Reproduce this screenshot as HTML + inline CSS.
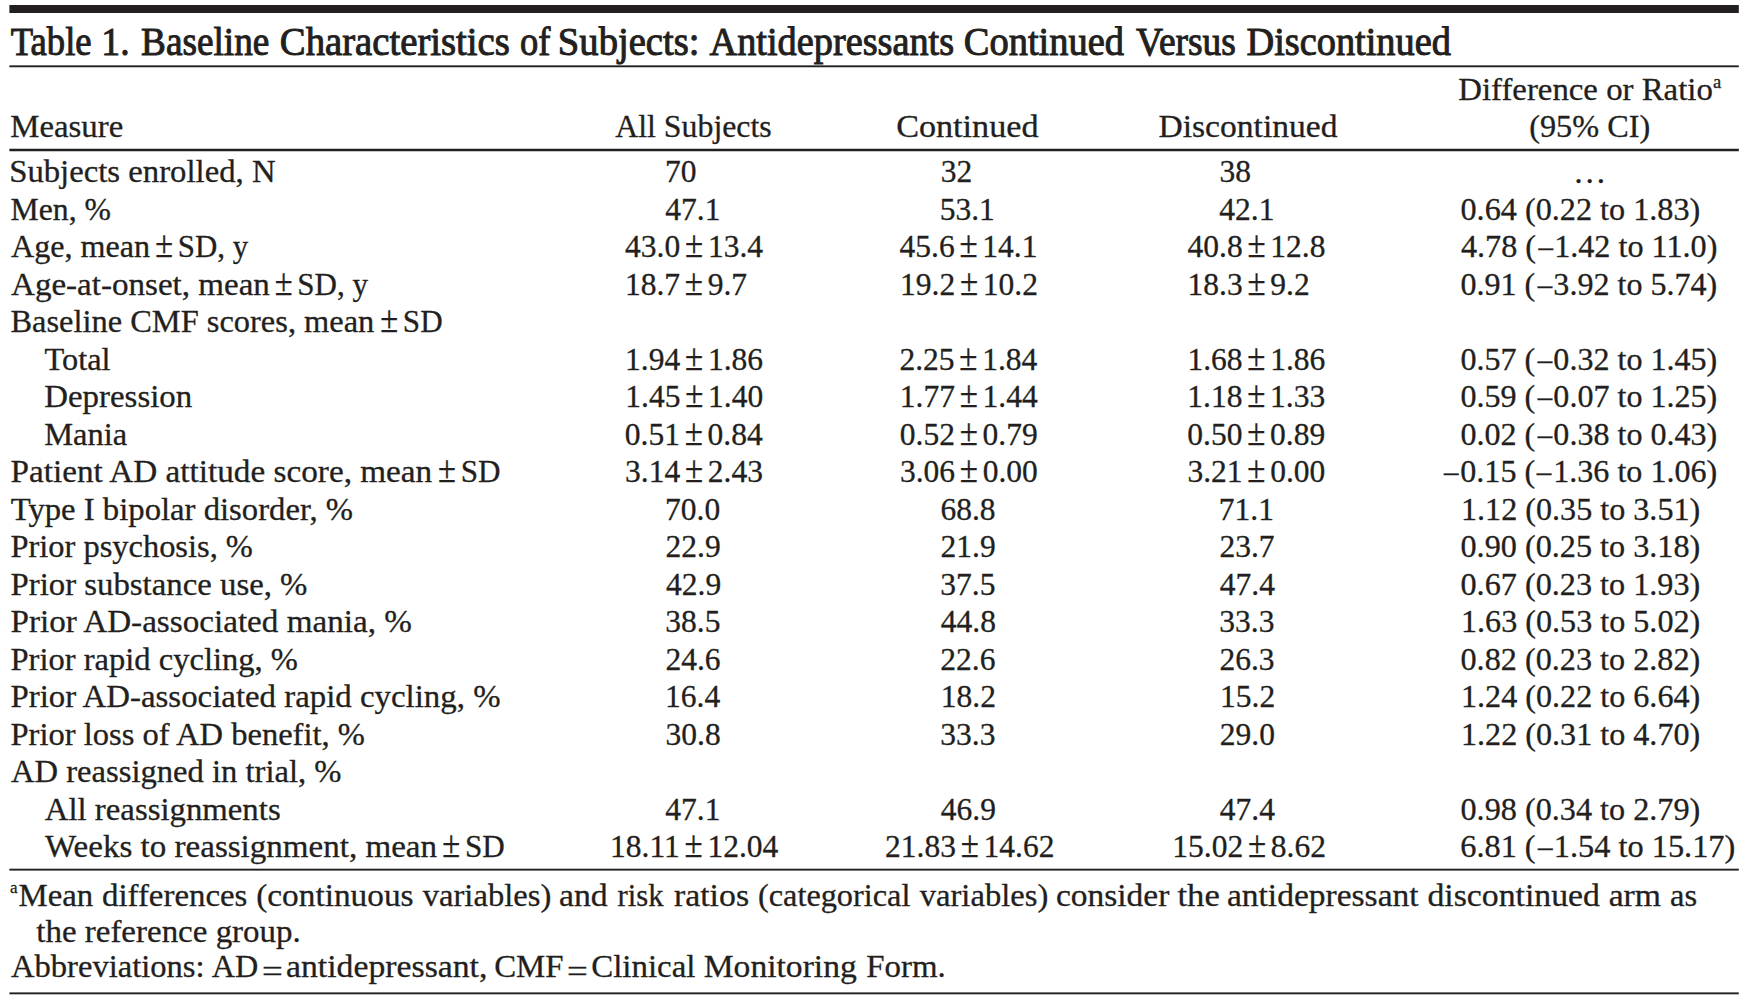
<!DOCTYPE html>
<html lang="en"><head><meta charset="utf-8"><title>Table 1</title><style>html,body{margin:0;padding:0;background:#fff;}
body{width:1748px;height:1004px;position:relative;overflow:hidden;font-family:"Liberation Serif",serif;color:#231f20;}
.t{position:absolute;left:0;top:0;white-space:pre;line-height:normal;transform-origin:0 0;font-size:31.5px;-webkit-text-stroke:0.3px #231f20;}
.title{font-size:40.5px;-webkit-text-stroke:1px #231f20;}
.sup{font-size:18.5px;}
.pm{display:inline-block;margin:0 4.75px;font-size:1.05em;line-height:1;transform:scaleY(1.12);transform-origin:50% 83.75%;}
.eq{margin:0 3.2px;}
.rule{position:absolute;left:0;top:0;fill:#231f20;}
.mn{display:inline-block;transform:scaleX(0.9);margin:0 0.8px 0 1.2px;}
.sup2{font-size:17px;}
.pm0{margin-left:0;}
</style></head><body>
<svg class="rule" width="1748" height="1004" viewBox="0 0 1748 1004">
<rect x="9.4" y="5.00" width="1729.4" height="8.00"/>
<rect x="9.4" y="65.35" width="1729.4" height="1.90"/>
<rect x="9.4" y="148.75" width="1729.4" height="2.50"/>
<rect x="9.4" y="868.70" width="1729.4" height="1.90"/>
<rect x="9.4" y="992.40" width="1729.4" height="1.90"/>
</svg>
<span id="t0" class="t title" style="transform:translate(10.77px,17.60px) scaleX(0.9043)">Table</span>
<span id="t1" class="t title" style="transform:translate(101.30px,17.60px) scaleX(0.9300)">1.</span>
<span id="t2" class="t title" style="transform:translate(141.04px,17.60px) scaleX(0.9196)">Baseline</span>
<span id="t3" class="t title" style="transform:translate(279.81px,17.60px) scaleX(0.9560)">Characteristics</span>
<span id="t4" class="t title" style="transform:translate(520.10px,17.60px) scaleX(0.9008)">of</span>
<span id="t5" class="t title" style="transform:translate(557.86px,17.60px) scaleX(0.9533)">Subjects:</span>
<span id="t6" class="t title" style="transform:translate(709.50px,17.60px) scaleX(0.9457)">Antidepressants</span>
<span id="t7" class="t title" style="transform:translate(963.81px,17.60px) scaleX(0.9493)">Continued</span>
<span id="t8" class="t title" style="transform:translate(1136.00px,17.60px) scaleX(0.9252)">Versus</span>
<span id="t9" class="t title" style="transform:translate(1246.54px,17.60px) scaleX(0.9459)">Discontinued</span>
<span id="h0" class="t" style="transform:translate(10.22px,109.40px) scaleX(1.0417)">Measure</span>
<span id="h1" class="t" style="transform:translate(615.25px,109.40px) scaleX(1.0101)">All Subjects</span>
<span id="h2" class="t" style="transform:translate(896.15px,109.40px) scaleX(1.0848)">Continued</span>
<span id="h3" class="t" style="transform:translate(1158.45px,109.40px) scaleX(1.0659)">Discontinued</span>
<span id="h4" class="t" style="transform:translate(1458.22px,71.50px) scaleX(1.0421)">Difference or Ratio</span>
<span id="h4a" class="t sup" style="transform:translate(1712.97px,72.00px) scaleX(1.0000)">a</span>
<span id="h5" class="t" style="transform:translate(1529.22px,109.40px) scaleX(1.0246)">(95% CI)</span>
<span id="p2" class="t" style="transform:translate(155.27px,229.20px) scaleX(0.9802)"><span class="pm pm0">±</span>SD, y</span>
<span id="p3" class="t" style="transform:translate(274.77px,266.70px) scaleX(0.9840)"><span class="pm pm0">±</span>SD, y</span>
<span id="p4" class="t" style="transform:translate(380.26px,304.20px) scaleX(0.9869)"><span class="pm pm0">±</span>SD</span>
<span id="p8" class="t" style="transform:translate(438.01px,454.20px) scaleX(0.9877)"><span class="pm pm0">±</span>SD</span>
<span id="p18" class="t" style="transform:translate(442.26px,829.20px) scaleX(0.9885)"><span class="pm pm0">±</span>SD</span>
<span id="a0" class="t" style="transform:translate(9.17px,154.20px) scaleX(1.0392)">Subjects enrolled, N</span>
<span id="a1" class="t" style="transform:translate(10.49px,191.70px) scaleX(1.0071)">Men, %</span>
<span id="a2" class="t" style="transform:translate(11.00px,229.20px) scaleX(1.0195)">Age, mean</span>
<span id="a3" class="t" style="transform:translate(11.00px,266.70px) scaleX(1.0497)">Age-at-onset, mean</span>
<span id="a4" class="t" style="transform:translate(10.48px,304.20px) scaleX(1.0294)">Baseline CMF scores, mean</span>
<span id="a5" class="t" style="transform:translate(44.49px,341.70px) scaleX(1.0277)">Total</span>
<span id="a6" class="t" style="transform:translate(44.22px,379.20px) scaleX(1.0444)">Depression</span>
<span id="a7" class="t" style="transform:translate(44.23px,416.70px) scaleX(1.0314)">Mania</span>
<span id="a8" class="t" style="transform:translate(10.46px,454.20px) scaleX(1.0550)">Patient AD attitude score, mean</span>
<span id="a9" class="t" style="transform:translate(10.74px,491.70px) scaleX(1.0379)">Type I bipolar disorder, %</span>
<span id="a10" class="t" style="transform:translate(10.48px,529.20px) scaleX(1.0298)">Prior psychosis, %</span>
<span id="a11" class="t" style="transform:translate(10.47px,566.70px) scaleX(1.0413)">Prior substance use, %</span>
<span id="a12" class="t" style="transform:translate(10.46px,604.20px) scaleX(1.0525)">Prior AD-associated mania, %</span>
<span id="a13" class="t" style="transform:translate(10.47px,641.70px) scaleX(1.0333)">Prior rapid cycling, %</span>
<span id="a14" class="t" style="transform:translate(10.47px,679.20px) scaleX(1.0432)">Prior AD-associated rapid cycling, %</span>
<span id="a15" class="t" style="transform:translate(10.47px,716.70px) scaleX(1.0336)">Prior loss of AD benefit, %</span>
<span id="a16" class="t" style="transform:translate(11.00px,754.20px) scaleX(1.0352)">AD reassigned in trial, %</span>
<span id="a17" class="t" style="transform:translate(44.74px,791.70px) scaleX(1.0411)">All reassignments</span>
<span id="a18" class="t" style="transform:translate(45.00px,829.20px) scaleX(1.0494)">Weeks to reassignment, mean</span>
<span id="b0" class="t" style="transform:translate(665.00px,154.20px) scaleX(1.0000)">70</span>
<span id="b1" class="t" style="transform:translate(665.25px,191.70px) scaleX(1.0000)">47.1</span>
<span id="b2" class="t" style="transform:translate(625.12px,229.20px) scaleX(1.0000)">43.0<span class="pm">±</span>13.4</span>
<span id="b3" class="t" style="transform:translate(624.88px,266.70px) scaleX(1.0000)">18.7<span class="pm">±</span>9.7</span>
<span id="b5" class="t" style="transform:translate(625.12px,341.70px) scaleX(1.0000)">1.94<span class="pm">±</span>1.86</span>
<span id="b6" class="t" style="transform:translate(625.25px,379.20px) scaleX(1.0000)">1.45<span class="pm">±</span>1.40</span>
<span id="b7" class="t" style="transform:translate(624.75px,416.70px) scaleX(1.0000)">0.51<span class="pm">±</span>0.84</span>
<span id="b8" class="t" style="transform:translate(625.00px,454.20px) scaleX(1.0000)">3.14<span class="pm">±</span>2.43</span>
<span id="b9" class="t" style="transform:translate(665.12px,491.70px) scaleX(1.0000)">70.0</span>
<span id="b10" class="t" style="transform:translate(665.50px,529.20px) scaleX(1.0000)">22.9</span>
<span id="b11" class="t" style="transform:translate(666.00px,566.70px) scaleX(1.0000)">42.9</span>
<span id="b12" class="t" style="transform:translate(665.25px,604.20px) scaleX(1.0000)">38.5</span>
<span id="b13" class="t" style="transform:translate(665.38px,641.70px) scaleX(1.0000)">24.6</span>
<span id="b14" class="t" style="transform:translate(665.00px,679.20px) scaleX(1.0000)">16.4</span>
<span id="b15" class="t" style="transform:translate(665.50px,716.70px) scaleX(1.0000)">30.8</span>
<span id="b17" class="t" style="transform:translate(665.25px,791.70px) scaleX(1.0000)">47.1</span>
<span id="b18" class="t" style="transform:translate(610.12px,829.20px) scaleX(1.0000)">18.11<span class="pm">±</span>12.04</span>
<span id="c0" class="t" style="transform:translate(940.75px,154.20px) scaleX(1.0000)">32</span>
<span id="c1" class="t" style="transform:translate(939.70px,191.70px) scaleX(1.0000)">53.1</span>
<span id="c2" class="t" style="transform:translate(899.50px,229.20px) scaleX(1.0000)">45.6<span class="pm">±</span>14.1</span>
<span id="c3" class="t" style="transform:translate(900.00px,266.70px) scaleX(1.0000)">19.2<span class="pm">±</span>10.2</span>
<span id="c5" class="t" style="transform:translate(899.38px,341.70px) scaleX(1.0000)">2.25<span class="pm">±</span>1.84</span>
<span id="c6" class="t" style="transform:translate(899.75px,379.20px) scaleX(1.0000)">1.77<span class="pm">±</span>1.44</span>
<span id="c7" class="t" style="transform:translate(899.75px,416.70px) scaleX(1.0000)">0.52<span class="pm">±</span>0.79</span>
<span id="c8" class="t" style="transform:translate(899.88px,454.20px) scaleX(1.0000)">3.06<span class="pm">±</span>0.00</span>
<span id="c9" class="t" style="transform:translate(940.38px,491.70px) scaleX(1.0000)">68.8</span>
<span id="c10" class="t" style="transform:translate(940.50px,529.20px) scaleX(1.0000)">21.9</span>
<span id="c11" class="t" style="transform:translate(940.25px,566.70px) scaleX(1.0000)">37.5</span>
<span id="c12" class="t" style="transform:translate(940.75px,604.20px) scaleX(1.0000)">44.8</span>
<span id="c13" class="t" style="transform:translate(940.25px,641.70px) scaleX(1.0000)">22.6</span>
<span id="c14" class="t" style="transform:translate(940.75px,679.20px) scaleX(1.0000)">18.2</span>
<span id="c15" class="t" style="transform:translate(940.25px,716.70px) scaleX(1.0000)">33.3</span>
<span id="c17" class="t" style="transform:translate(940.75px,791.70px) scaleX(1.0000)">46.9</span>
<span id="c18" class="t" style="transform:translate(885.00px,829.20px) scaleX(1.0000)">21.83<span class="pm">±</span>14.62</span>
<span id="d0" class="t" style="transform:translate(1219.38px,154.20px) scaleX(1.0000)">38</span>
<span id="d1" class="t" style="transform:translate(1219.25px,191.70px) scaleX(1.0000)">42.1</span>
<span id="d2" class="t" style="transform:translate(1187.50px,229.20px) scaleX(1.0000)">40.8<span class="pm">±</span>12.8</span>
<span id="d3" class="t" style="transform:translate(1187.50px,266.70px) scaleX(1.0000)">18.3<span class="pm">±</span>9.2</span>
<span id="d5" class="t" style="transform:translate(1187.38px,341.70px) scaleX(1.0000)">1.68<span class="pm">±</span>1.86</span>
<span id="d6" class="t" style="transform:translate(1187.25px,379.20px) scaleX(1.0000)">1.18<span class="pm">±</span>1.33</span>
<span id="d7" class="t" style="transform:translate(1187.25px,416.70px) scaleX(1.0000)">0.50<span class="pm">±</span>0.89</span>
<span id="d8" class="t" style="transform:translate(1187.38px,454.20px) scaleX(1.0000)">3.21<span class="pm">±</span>0.00</span>
<span id="d9" class="t" style="transform:translate(1218.75px,491.70px) scaleX(1.0000)">71.1</span>
<span id="d10" class="t" style="transform:translate(1219.38px,529.20px) scaleX(1.0000)">23.7</span>
<span id="d11" class="t" style="transform:translate(1219.75px,566.70px) scaleX(1.0000)">47.4</span>
<span id="d12" class="t" style="transform:translate(1219.25px,604.20px) scaleX(1.0000)">33.3</span>
<span id="d13" class="t" style="transform:translate(1219.38px,641.70px) scaleX(1.0000)">26.3</span>
<span id="d14" class="t" style="transform:translate(1220.00px,679.20px) scaleX(1.0000)">15.2</span>
<span id="d15" class="t" style="transform:translate(1219.75px,716.70px) scaleX(1.0000)">29.0</span>
<span id="d17" class="t" style="transform:translate(1219.75px,791.70px) scaleX(1.0000)">47.4</span>
<span id="d18" class="t" style="transform:translate(1172.25px,829.20px) scaleX(1.0000)">15.02<span class="pm">±</span>8.62</span>
<span id="e0" class="t" style="transform:translate(1573.06px,155.00px) scaleX(1.0600)">…</span>
<span id="e1" class="t" style="transform:translate(1460.48px,191.70px) scaleX(1.0226)">0.64 (0.22 to 1.83)</span>
<span id="e2" class="t" style="transform:translate(1460.99px,229.20px) scaleX(1.0211)">4.78 (<span class="mn">–</span>1.42 to 11.0)</span>
<span id="e3" class="t" style="transform:translate(1460.48px,266.70px) scaleX(1.0180)">0.91 (<span class="mn">–</span>3.92 to 5.74)</span>
<span id="e5" class="t" style="transform:translate(1460.48px,341.70px) scaleX(1.0180)">0.57 (<span class="mn">–</span>0.32 to 1.45)</span>
<span id="e6" class="t" style="transform:translate(1460.48px,379.20px) scaleX(1.0180)">0.59 (<span class="mn">–</span>0.07 to 1.25)</span>
<span id="e7" class="t" style="transform:translate(1460.48px,416.70px) scaleX(1.0180)">0.02 (<span class="mn">–</span>0.38 to 0.43)</span>
<span id="e8" class="t" style="transform:translate(1442.22px,454.20px) scaleX(1.0187)"><span class="mn">–</span>0.15 (<span class="mn">–</span>1.36 to 1.06)</span>
<span id="e9" class="t" style="transform:translate(1460.95px,491.70px) scaleX(1.0206)">1.12 (0.35 to 3.51)</span>
<span id="e10" class="t" style="transform:translate(1460.48px,529.20px) scaleX(1.0226)">0.90 (0.25 to 3.18)</span>
<span id="e11" class="t" style="transform:translate(1460.48px,566.70px) scaleX(1.0226)">0.67 (0.23 to 1.93)</span>
<span id="e12" class="t" style="transform:translate(1460.95px,604.20px) scaleX(1.0206)">1.63 (0.53 to 5.02)</span>
<span id="e13" class="t" style="transform:translate(1460.48px,641.70px) scaleX(1.0226)">0.82 (0.23 to 2.82)</span>
<span id="e14" class="t" style="transform:translate(1460.95px,679.20px) scaleX(1.0206)">1.24 (0.22 to 6.64)</span>
<span id="e15" class="t" style="transform:translate(1460.95px,716.70px) scaleX(1.0206)">1.22 (0.31 to 4.70)</span>
<span id="e17" class="t" style="transform:translate(1460.48px,791.70px) scaleX(1.0226)">0.98 (0.34 to 2.79)</span>
<span id="e18" class="t" style="transform:translate(1460.22px,829.20px) scaleX(1.0262)">6.81 (<span class="mn">–</span>1.54 to 15.17)</span>
<span id="f0a" class="t sup2" style="transform:translate(10.00px,878.20px) scaleX(1.0000)">a</span>
<span id="g0" class="t" style="transform:translate(18.47px,878.20px) scaleX(1.0424)">Mean</span>
<span id="g1" class="t" style="transform:translate(101.96px,878.20px) scaleX(1.0437)">differences</span>
<span id="g2" class="t" style="transform:translate(256.18px,878.20px) scaleX(1.0580)">(continuous</span>
<span id="g3" class="t" style="transform:translate(422.76px,878.20px) scaleX(1.0345)">variables)</span>
<span id="g4" class="t" style="transform:translate(558.93px,878.20px) scaleX(1.0734)">and</span>
<span id="g5" class="t" style="transform:translate(617.51px,878.20px) scaleX(0.9734)">risk</span>
<span id="g6" class="t" style="transform:translate(673.96px,878.20px) scaleX(1.0730)">ratios</span>
<span id="g7" class="t" style="transform:translate(757.97px,878.20px) scaleX(1.0255)">(categorical</span>
<span id="g8" class="t" style="transform:translate(919.76px,878.20px) scaleX(1.0345)">variables)</span>
<span id="g9" class="t" style="transform:translate(1055.94px,878.20px) scaleX(1.0621)">consider</span>
<span id="g10" class="t" style="transform:translate(1177.49px,878.20px) scaleX(1.1000)">the</span>
<span id="g11" class="t" style="transform:translate(1226.94px,878.20px) scaleX(1.0636)">antidepressant</span>
<span id="g12" class="t" style="transform:translate(1427.44px,878.20px) scaleX(1.0710)">discontinued</span>
<span id="g13" class="t" style="transform:translate(1608.68px,878.20px) scaleX(1.0681)">arm</span>
<span id="g14" class="t" style="transform:translate(1669.97px,878.20px) scaleX(1.0309)">as</span>
<span id="f1" class="t" style="transform:translate(36.24px,913.70px) scaleX(1.0469)">the reference group.</span>
<span id="k0" class="t" style="transform:translate(10.99px,949.20px) scaleX(1.0339)">Abbreviations:</span>
<span id="k1" class="t" style="transform:translate(211.74px,949.20px) scaleX(1.0226)">AD</span>
<span id="k2" class="t" style="transform:translate(262.00px,954.00px) scaleX(1.1697)">=</span>
<span id="k3" class="t" style="transform:translate(285.93px,949.20px) scaleX(1.0715)">antidepressant,</span>
<span id="k4" class="t" style="transform:translate(494.20px,949.20px) scaleX(1.0428)">CMF</span>
<span id="k5" class="t" style="transform:translate(567.00px,954.00px) scaleX(1.1697)">=</span>
<span id="k6" class="t" style="transform:translate(591.19px,949.20px) scaleX(1.0459)">Clinical</span>
<span id="k7" class="t" style="transform:translate(703.70px,949.20px) scaleX(1.0668)">Monitoring</span>
<span id="k8" class="t" style="transform:translate(866.22px,949.20px) scaleX(1.0442)">Form.</span>
</body></html>
